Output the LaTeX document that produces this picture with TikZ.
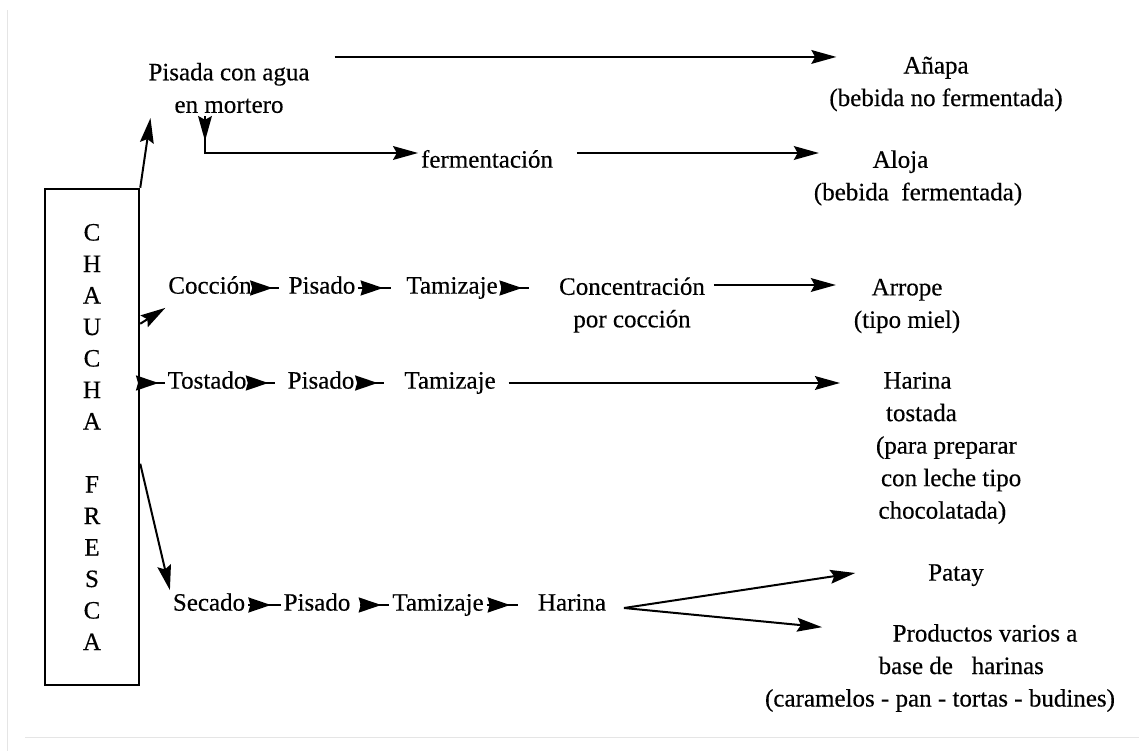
\documentclass[tikz,border=0pt]{standalone}
\usepackage{fontspec}
\setmainfont{Liberation Serif}[FakeBold=0.4]
\usetikzlibrary{arrows.meta, calc, decorations.markings}

\tikzset{
  paso/.style={inner sep=1pt, text height=0.7em, text depth=0.25em},
  bloque/.style={inner sep=1pt, align=center},
  flecha/.style={-{Stealth[length=10pt, width=5.5pt, inset=1.5pt]}, line width=0.8pt},
  flechita/.style={line width=0.8pt, postaction={decorate},
    decoration={markings,
      mark=at position #1 with {\arrow{Stealth[length=9pt, width=6pt, inset=0.8pt]}}}},
  flechita/.default=0.75
}

\begin{document}
\begin{tikzpicture}[x=0.4pt, y=-0.4pt, font=\fontsize{10}{13}\selectfont]

  \useasboundingbox (0,0) rectangle (1139,751);

  % Marco
  \draw[black!10, line width=0.4pt] (7,10) -- (7,751);
  \draw[black!10, line width=0.4pt] (25,737) -- (1139,737);

  % Caja
  \node[draw, line width=1pt, minimum width=37.6pt, minimum height=198.4pt,
        align=center, font=\fontsize{10}{12.6}\selectfont] (chaucha) at (92,437)
        {C\\H\\A\\U\\C\\H\\A\\[12.6pt]F\\R\\E\\S\\C\\A};

  %%%%%%%%%%%%%%%%%%%%%%%%%%%%%%%%%%%%%%%%%%%%%%%%%
  % Pisada en mortero
  \node[bloque] (pisada) at (229,88) {Pisada con agua\\en mortero};
  \node[bloque] (anapa) at (946,84) {Añapa\hspace*{8pt}\\(bebida no fermentada)};
  \node[paso] (ferm) at (487,162) {fermentación};
  \node[bloque] (aloja) at (918,178) {Aloja\hspace*{14pt}\\(bebida \ fermentada)};
  \coordinate (codo) at (205,153);

  \draw[flecha] (chaucha.north east) -- ($(pisada.south west)+(5,2)$);
  \draw[flecha] ($(pisada.north east)+(22,-3)$) -- ($(pisada.north east -| anapa.west)+(10,-3)$);
  \draw[flecha] (pisada.south -| codo) -- ++(0,25);
  \draw[flecha] (pisada.south -| codo) -- (codo) -- (ferm.west |- codo);
  \draw[flecha] ($(ferm.east |- codo)+(21,0)$) -- ($(aloja.west |- codo)+(8,0)$);

  %%%%%%%%%%%%%%%%%%%%%%%%%%%%%%%%%%%%%%%%%%%%%%%%%
  % Coccion
  \node[paso] (coccion) at (210,288) {Cocción};
  \node[paso] (pisado1) at (322,288) {Pisado};
  \node[paso] (tamiz1) at (452,288) {Tamizaje};
  \node[bloque] (concen) at (632,305) {Concentración\\por cocción};
  \node[bloque] (arrope) at (907,306) {Arrope\\(tipo miel)};

  \draw[flecha] ($(chaucha.north east)+(0,136)$) -- ($(coccion.south west)+(0,5)$);
  \draw[flechita] (coccion.east) -- ($(pisado1.west)+(-7,0)$);
  \draw[flechita] (pisado1.east) -- ($(tamiz1.west)+(-12,0)$);
  \draw[flechita] (tamiz1.east) -- ($(concen.west |- tamiz1)+(-27,0)$);
  \draw[flecha] ($(concen.east |- tamiz1)+(6,-3)$) -- ($(arrope.west |- tamiz1)+(-15,-3)$);

  %%%%%%%%%%%%%%%%%%%%%%%%%%%%%%%%%%%%%%%%%%%%%%%%%
  % Tostado
  \node[paso] (tostado) at (207,383) {Tostado};
  \node[paso] (pisado2) at (321,383) {Pisado};
  \node[paso] (tamiz2) at (450,383) {Tamizaje};
  \node[bloque, align=left, anchor=west] (harina) at (873,448)
        {\hspace*{3pt}Harina\\\hspace*{4pt}tostada\\(para preparar\\\hspace*{2pt}con leche tipo\\\hspace*{1pt}chocolatada)};

  \draw[flechita] (chaucha.east |- tostado) -- (tostado.west);
  \draw[flechita] (tostado.east) -- ($(pisado2.west)+(-10,0)$);
  \draw[flechita] (pisado2.east) -- ($(tamiz2.west)+(-17,0)$);
  \draw[flecha] ($(tamiz2.east)+(10,0)$) -- ($(harina.west |- tamiz2)+(-33,0)$);

  %%%%%%%%%%%%%%%%%%%%%%%%%%%%%%%%%%%%%%%%%%%%%%%%%
  % Secado
  \node[paso] (secado) at (209,605) {Secado};
  \node[paso] (pisado3) at (317,605) {Pisado};
  \node[paso] (tamiz3) at (438,605) {Tamizaje};
  \node[paso] (harfin) at (572,605) {Harina};
  \node[paso] (patay) at (956,575) {Patay};
  \node[bloque] (productos) at (940,668)
        {\hspace*{36pt}Productos varios a\\\hspace*{17pt}base de \ \ harinas\\(caramelos - pan - tortas - budines)};
  \coordinate (rama) at ($(harfin.east)+(15,3)$);

  \draw[flecha] ($(chaucha.north east)+(0,276)$) -- (secado.north west);
  \draw[flechita=0.7] (secado.east) -- (pisado3.west);
  \draw[flechita=0.72] ($(pisado3.east)+(7,0)$) -- (tamiz3.west);
  \draw[flechita] (tamiz3.east) -- ($(harfin.west)+(-17,0)$);
  \draw[flecha] (rama) -- ($(patay.west)+(-70,-2)$);
  \draw[flecha] (rama) -- ($(productos.north west)+(60,6)$);

\end{tikzpicture}
\end{document}
